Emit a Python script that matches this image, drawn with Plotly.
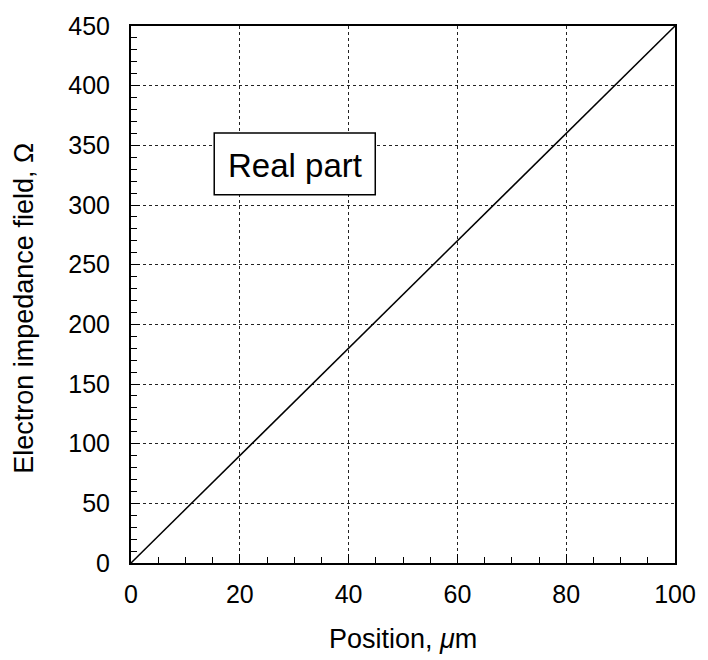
import plotly.graph_objects as go

# Data (straight line)
position_um = [0, 10, 20, 30, 40, 50, 60, 70, 80, 90, 100]
impedance_ohm = [0, 45, 90, 135, 180, 225, 270, 315, 360, 405, 450]

x_ticks = [0, 20, 40, 60, 80, 100]
y_ticks = [0, 50, 100, 150, 200, 250, 300, 350, 400, 450]

FONT = "Liberation Sans, Arial, Helvetica, sans-serif"

fig = go.Figure()
fig.add_trace(go.Scatter(x=position_um, y=impedance_ohm, mode="lines",
                         line=dict(color="black", width=1.5), showlegend=False))

axis_common = dict(
    showline=True, linecolor="black", linewidth=2, mirror=True,
    showgrid=True, gridcolor="#222222", griddash="dot", gridwidth=1,
    ticks="inside", ticklen=9, tickwidth=1, tickcolor="black",
    zeroline=False,
    tickfont=dict(family=FONT, size=25, color="black"),
)

fig.update_xaxes(range=[0, 100], tickvals=x_ticks,
                 minor=dict(dtick=5, ticks="inside", ticklen=6, tickcolor="black", showgrid=False),
                 ticklabelstandoff=8,
                 **axis_common)
fig.update_yaxes(range=[0, 450], tickvals=y_ticks,
                 minor=dict(dtick=10, ticks="inside", ticklen=6, tickcolor="black", showgrid=False),
                 ticklabelstandoff=14,
                 **axis_common)

# axis titles placed as annotations (paper coords)
fig.add_annotation(x=0.5, y=-0.141, xref="paper", yref="paper",
                   text="Position, <i>μ</i>m", showarrow=False,
                   xanchor="center", yanchor="middle",
                   font=dict(family=FONT, size=27, color="black"))
fig.add_annotation(x=-0.197, y=0.475, xref="paper", yref="paper",
                   text="Electron impedance field, Ω", showarrow=False, textangle=-90,
                   xanchor="center", yanchor="middle",
                   font=dict(family=FONT, size=27, color="black"))

# "Real part" label box
fig.add_shape(type="rect", x0=15.3, x1=44.9, y0=308.5, y1=360.3, xref="x", yref="y",
              line=dict(color="black", width=1.5), fillcolor="white", layer="above")
fig.add_annotation(x=30.2, y=333, xref="x", yref="y", text="Real part", showarrow=False,
                   xanchor="center", yanchor="middle",
                   font=dict(family=FONT, size=33, color="black"))

fig.update_layout(width=708, height=660, margin=dict(l=131, r=29, t=16, b=97),
                  plot_bgcolor="white", paper_bgcolor="white")

fig.write_html("out.html")
